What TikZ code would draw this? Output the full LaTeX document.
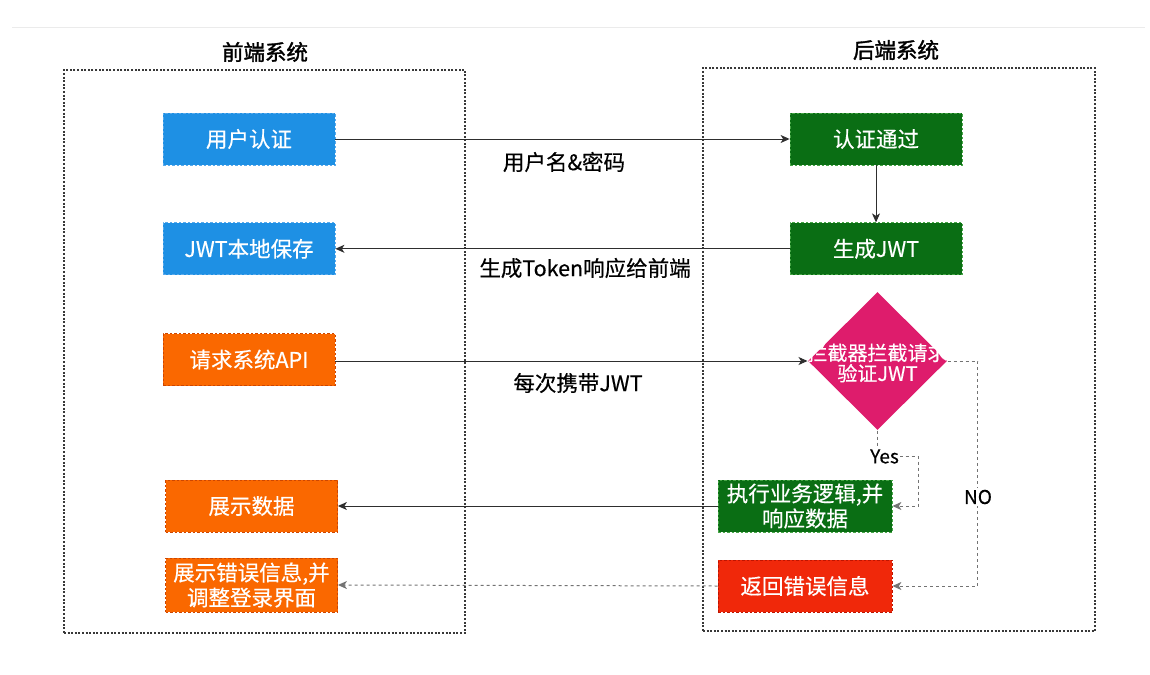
\documentclass[tikz,border=0pt]{standalone}
\usepackage{fontspec}
\setmainfont{Noto Sans CJK SC}[FakeBold=0.4]
\newfontfamily\titlefont{Noto Sans CJK SC}[FakeBold=1.6]
\usetikzlibrary{positioning}
\usetikzlibrary{calc}
\usetikzlibrary{arrows.meta}
\usetikzlibrary{shapes.geometric}
\definecolor{feblue}{RGB}{30,144,228}
\definecolor{feblueline}{RGB}{90,170,235}
\definecolor{feorange}{RGB}{250,104,0}
\definecolor{feorangeline}{RGB}{205,70,0}
\definecolor{begreen}{RGB}{10,110,20}
\definecolor{begreenline}{RGB}{70,165,70}
\definecolor{becrimson}{RGB}{222,28,108}
\definecolor{bered}{RGB}{240,40,10}
\definecolor{beredline}{RGB}{190,20,0}

\begin{document}
\begin{tikzpicture}[x=1pt, y=-1pt, -{Stealth[length=9pt, width=8pt, inset=2.5pt]}, draw=black!82, line width=1pt, font=\fontsize{21.5}{25}\selectfont]
		\tikzstyle{box}=[rectangle, dash pattern=on 2.5pt off 2pt, line width=0.8pt, minimum width=172pt, minimum height=52pt, inner sep=0pt, text=white, align=center]
		\tikzstyle{frame}=[rectangle, draw=black!78, dash pattern=on 2pt off 1.6pt, line width=1.1pt, inner sep=0pt]
		\tikzstyle{dotlink}=[draw=black!55, dash pattern=on 3pt off 3pt]
		
		\useasboundingbox (0,0) rectangle (1150,674);
		\draw[-, black!8, line width=0.8pt] (12,27) -- (1145,27);
		
		% frames
		\node[frame, minimum width=401pt, minimum height=563pt] (front) at (264.5,351.5) {};
		\node[frame, minimum width=392pt, minimum height=563pt] (back) at (899,349.5) {};
		\node[font=\titlefont\fontsize{21.5}{25}\selectfont] at (265,52) {前端系统};
		\node[font=\titlefont\fontsize{21.5}{25}\selectfont] at (896,50) {后端系统};
		
		% front end
		\node[box, fill=feblue, draw=feblueline] (auth) at (249,139) {用户认证};
		\node[box, fill=feblue, draw=feblueline, below=57pt of auth] (store) {JWT本地保存};
		\node[box, fill=feorange, draw=feorangeline, below=58pt of store] (api) {请求系统API};
		\node[box, fill=feorange, draw=feorangeline] (show) at (251.5,506) {展示数据};
		\node[box, fill=feorange, draw=feorangeline, minimum height=54pt] (err) at (251.5,585) {展示错误信息,并\\调整登录界面};
		
		% back end
		\node[box, fill=begreen, draw=begreenline] (pass) at (876,139) {认证通过};
		\node[box, fill=begreen, draw=begreenline, below=57pt of pass] (gen) {生成JWT};
		\node[diamond, fill=becrimson, minimum width=139pt, minimum height=138pt, inner sep=0pt] (check) at (877.5,361) {};
		\node[text=white, align=center, font=\fontsize{20}{20.5}\selectfont] at ($(check)+(0,2)$) {拦截器拦截请求\\验证JWT};
		\node[box, fill=begreen, draw=begreenline, minimum width=174pt] (exec) at (805,506) {执行业务逻辑,并\\响应数据};
		\node[box, fill=bered, draw=beredline, minimum width=174pt] (fail) at (805,586) {返回错误信息};
		
		\draw (auth.east) -- (pass.west);
		\draw (pass.south) -- (gen.north);
		\draw (gen.west) -- (store.east);
		\draw (api.east |- check.west) -- (check.west);
		\draw (exec.west) -- (show.east);
		\draw[dotlink] (fail.west) -- (err.east);
		\draw[dotlink] (check.south) -- ++(0,26) -- ++(41,0) |- (exec.east);
		\draw[dotlink] (check.east) -- ++(30,0) |- (fail.east);
		
		\node at (564,162) {用户名\&密码};
		\node at (585,268) {生成Token响应给前端};
		\node at (578,383) {每次携带JWT};
		\node[fill=white, inner sep=1pt, font=\fontsize{19}{20}\selectfont] at ($(check.south)+(7,26)$) {Yes};
		\node[fill=white, inner sep=2pt, font=\fontsize{19}{20}\selectfont] at (978,497) {NO};
\end{tikzpicture}
\end{document}
